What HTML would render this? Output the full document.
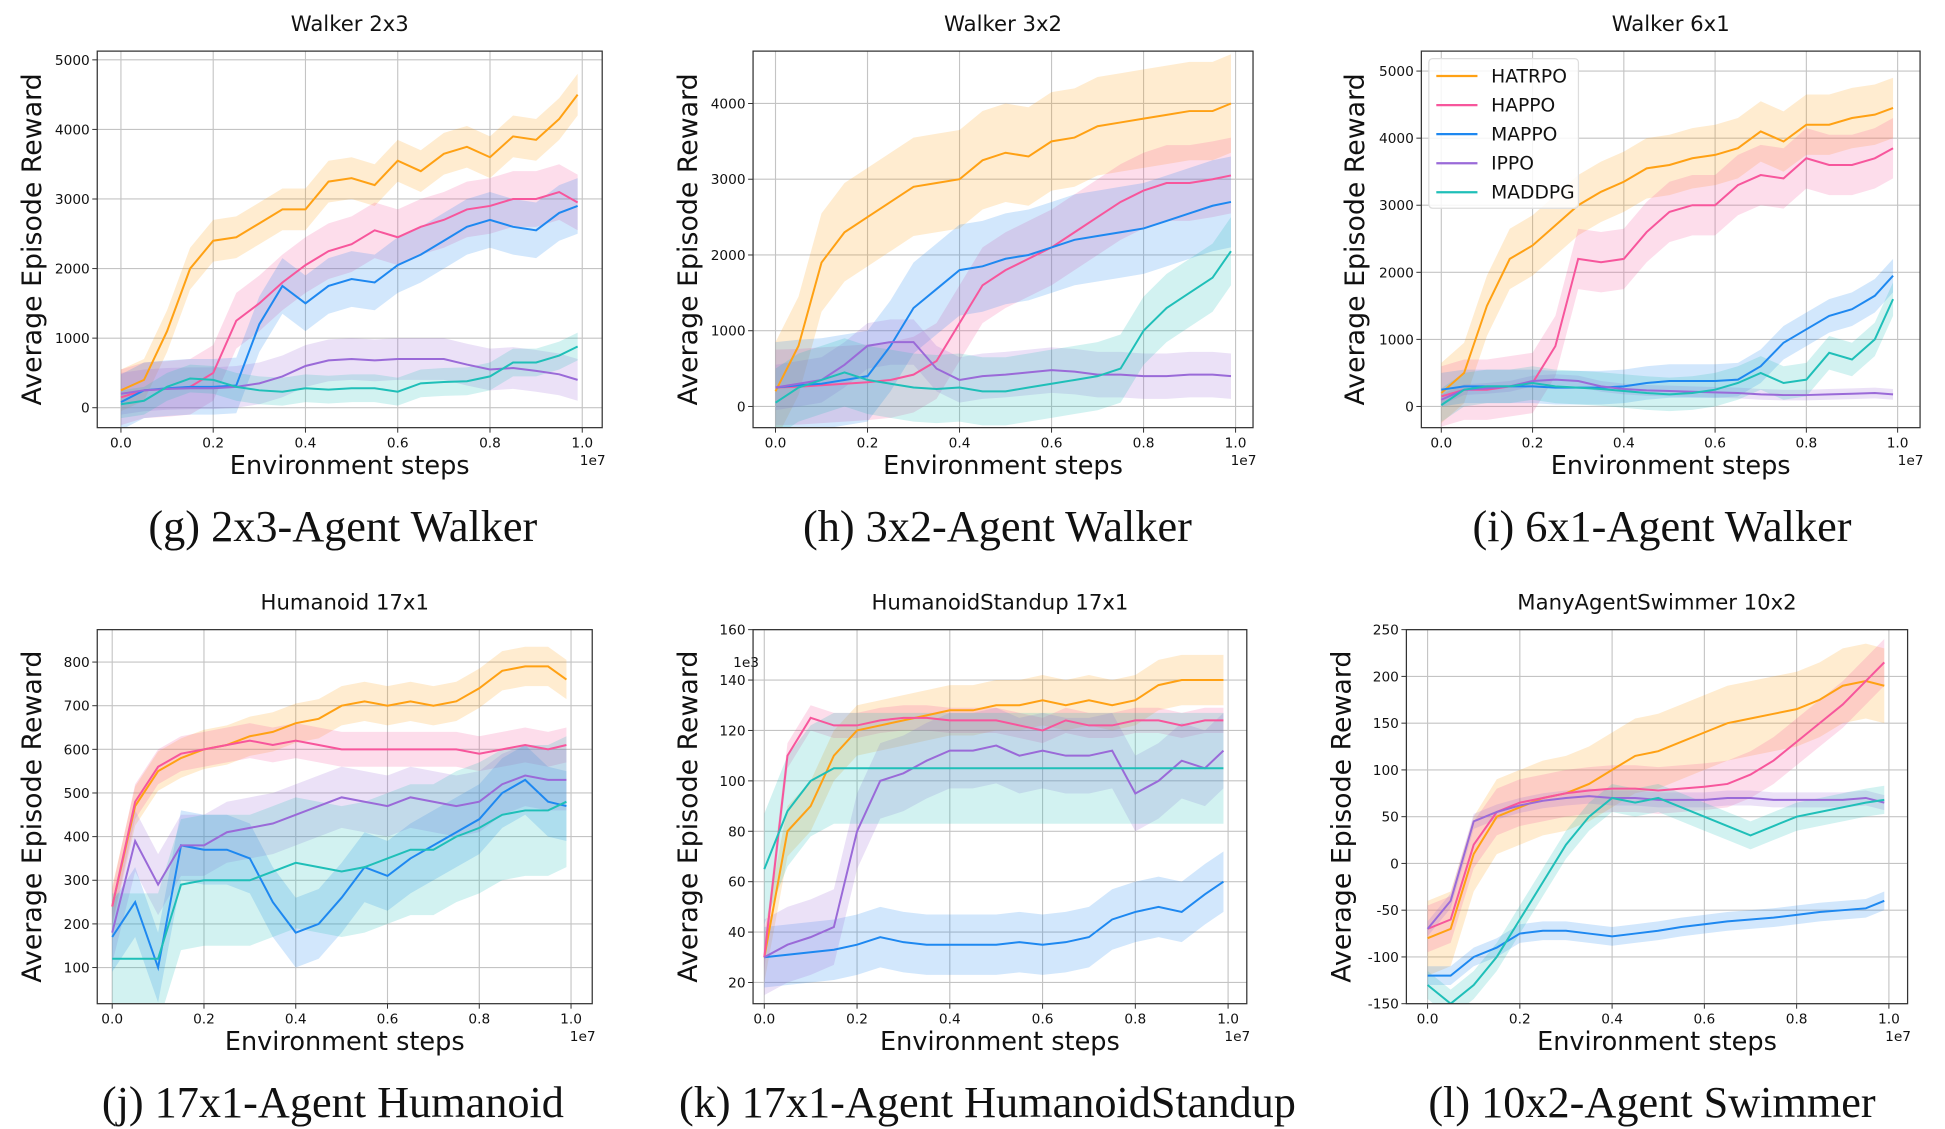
<!DOCTYPE html>
<html><head><meta charset="utf-8"><style>
html,body{margin:0;padding:0;background:#fff;}
svg{display:block;}
text{font-family:"DejaVu Sans","Liberation Sans",sans-serif;fill:#111;}
.cap{font-family:"Liberation Serif",serif;}
</style></head><body>
<svg id="fig" width="1945" height="1129" viewBox="0 0 1560 905.5" preserveAspectRatio="none" xmlns="http://www.w3.org/2000/svg"></svg>
<script>
const xs = [0,0.05,0.1,0.15,0.2,0.25,0.3,0.35,0.4,0.45,0.5,0.55,0.6,0.65,0.7,0.75,0.8,0.85,0.9,0.95,0.99];
const algos = ['HATRPO','HAPPO','MAPPO','IPPO','MADDPG'];
const colors = ['#ffa114','#f7569c','#1e88f0','#9a6ad8','#1fbfb8'];

// Walker 2x3
const g_hatrpo=[250,400,1100,2000,2400,2450,2650,2850,2850,3250,3300,3200,3550,3400,3650,3750,3600,3900,3850,4150,4500];
const g_happo=[150,250,270,300,500,1250,1500,1800,2050,2250,2350,2550,2450,2600,2700,2850,2900,3000,3000,3100,2950];
const g_mappo=[80,250,280,300,300,320,1200,1750,1500,1750,1850,1800,2050,2200,2400,2600,2700,2600,2550,2800,2900];
const g_ippo=[200,250,270,280,280,300,350,450,600,680,700,680,700,700,700,620,550,570,530,480,400];
const g_maddpg=[50,100,300,420,400,300,250,230,280,260,280,280,230,350,370,380,450,650,650,750,880];
const g_spread=[300,400,400,300,200];
// Walker 3x2
const h_hatrpo=[200,800,1900,2300,2500,2700,2900,2950,3000,3250,3350,3300,3500,3550,3700,3750,3800,3850,3900,3900,4000];
const h_happo=[250,260,280,300,320,350,420,600,1100,1600,1800,1950,2100,2300,2500,2700,2850,2950,2950,3000,3050];
const h_mappo=[250,280,300,350,400,800,1300,1550,1800,1850,1950,2000,2100,2200,2250,2300,2350,2450,2550,2650,2700];
const h_ippo=[250,300,350,550,800,850,850,500,350,400,420,450,480,460,420,420,400,400,420,420,400];
const h_maddpg=[50,250,350,450,350,300,250,230,250,200,200,250,300,350,400,500,1000,1300,1500,1700,2050];
const h_spread=[650,500,600,300,450];
// Walker 6x1
const i_hatrpo=[200,500,1500,2200,2400,2700,3000,3200,3350,3550,3600,3700,3750,3850,4100,3950,4200,4200,4300,4350,4450];
const i_happo=[150,250,250,300,350,900,2200,2150,2200,2600,2900,3000,3000,3300,3450,3400,3700,3600,3600,3700,3850];
const i_mappo=[250,300,300,300,300,280,280,280,300,350,380,380,380,400,600,950,1150,1350,1450,1650,1950];
const i_ippo=[100,250,270,300,380,400,380,300,260,240,230,220,210,200,180,170,170,180,190,200,180];
const i_maddpg=[20,250,300,300,350,300,280,260,230,200,180,200,250,350,500,350,400,800,700,1000,1600];
const i_spread=[450,450,250,80,250];
// Humanoid 17x1
const j_hatrpo=[240,470,550,580,600,610,630,640,660,670,700,710,700,710,700,710,740,780,790,790,760];
const j_happo=[240,480,560,590,600,610,620,610,620,610,600,600,600,600,600,600,590,600,610,600,610];
const j_mappo=[170,250,100,380,370,370,350,250,180,200,260,330,310,350,380,410,440,500,530,480,470];
const j_ippo=[180,390,290,380,380,410,420,430,450,470,490,480,470,490,480,470,480,520,540,530,530];
const j_maddpg=[120,120,120,290,300,300,300,320,340,330,320,330,350,370,370,400,420,450,460,460,480];
const j_spread=[45,40,80,70,150];
// HumanoidStandup 17x1
const k_hatrpo=[30,80,90,110,120,122,124,126,128,128,130,130,132,130,132,130,132,138,140,140,140];
const k_happo=[30,110,125,122,122,124,125,125,124,124,124,122,120,124,122,122,124,124,122,124,124];
const k_mappo=[30,31,32,33,35,38,36,35,35,35,35,36,35,36,38,45,48,50,48,55,60];
const k_ippo=[30,35,38,42,80,100,103,108,112,112,114,110,112,110,110,112,95,100,108,105,112];
const k_maddpg=[65,88,100,105,105,105,105,105,105,105,105,105,105,105,105,105,105,105,105,105,105];
const k_spread=[10,5,12,15,22];
// ManyAgentSwimmer 10x2
const l_hatrpo=[-80,-70,10,50,60,70,75,85,100,115,120,130,140,150,155,160,165,175,190,195,190];
const l_happo=[-70,-60,20,55,65,70,75,78,80,80,78,80,82,85,95,110,130,150,170,195,215];
const l_mappo=[-120,-120,-100,-90,-75,-72,-72,-75,-78,-75,-72,-68,-65,-62,-60,-58,-55,-52,-50,-48,-40];
const l_ippo=[-70,-40,45,55,62,67,70,72,70,70,68,68,68,70,70,68,68,68,68,70,65];
const l_maddpg=[-130,-150,-130,-100,-60,-20,20,50,70,65,70,60,50,40,30,40,50,55,60,65,68];
const l_spread=[40,25,10,8,15];

const gTicks=[0,1000,2000,3000,4000,5000];
const hTicks=[0,1000,2000,3000,4000];
const jTicks=[100,200,300,400,500,600,700,800];
const kTicks=[20,40,60,80,100,120,140,160];
const lTicks=[-150,-100,-50,0,50,100,150,200,250];
const xTicks=[0,0.2,0.4,0.6,0.8,1.0];

const panels=[
 {id:'walker-2x3',title:'Walker 2x3',cap:'(g) 2x3-Agent Walker',capX:275,capY:434,box:[78,41,483,343],x0:97,x1:467,yA:[0,327],yB:[5000,48],ticks:gTicks,series:[g_hatrpo,g_happo,g_mappo,g_ippo,g_maddpg],spread:g_spread,ylab:27},
 {id:'walker-3x2',title:'Walker 3x2',cap:'(h) 3x2-Agent Walker',capX:800,capY:434,box:[604,41,1005,343],x0:622,x1:991,yA:[0,326],yB:[4000,83],ticks:hTicks,series:[h_hatrpo,h_happo,h_mappo,h_ippo,h_maddpg],spread:h_spread,ylab:553},
 {id:'walker-6x1',title:'Walker 6x1',cap:'(i) 6x1-Agent Walker',capX:1333,capY:434,box:[1140,41,1540,343],x0:1156,x1:1522,yA:[0,326],yB:[5000,57],ticks:gTicks,series:[i_hatrpo,i_happo,i_mappo,i_ippo,i_maddpg],spread:i_spread,ylab:1088,legend:true},
 {id:'humanoid-17x1',title:'Humanoid 17x1',cap:'(j) 17x1-Agent Humanoid',capX:267,capY:896,box:[78,505,475,805],x0:90,x1:458,yA:[100,776],yB:[800,531],ticks:jTicks,series:[j_hatrpo,j_happo,j_mappo,j_ippo,j_maddpg],spread:j_spread,ylab:27},
 {id:'humanoidstandup-17x1',title:'HumanoidStandup 17x1',cap:'(k) 17x1-Agent HumanoidStandup',capX:792,capY:896,box:[604,505,1000,805],x0:613,x1:985,yA:[20,788],yB:[160,505],ticks:kTicks,series:[k_hatrpo,k_happo,k_mappo,k_ippo,k_maddpg],spread:k_spread,ylab:553,exp:'1e3'},
 {id:'swimmer-10x2',title:'ManyAgentSwimmer 10x2',cap:'(l) 10x2-Agent Swimmer',capX:1325,capY:896,box:[1128,505,1530,805],x0:1145,x1:1515,yA:[-150,805],yB:[250,505],ticks:lTicks,series:[l_hatrpo,l_happo,l_mappo,l_ippo,l_maddpg],spread:l_spread,ylab:1077}
];

const NS='http://www.w3.org/2000/svg';
const svg=document.getElementById('fig');
function mk(tag,attrs,parent,txt){const e=document.createElementNS(NS,tag);for(const k in attrs)e.setAttribute(k,attrs[k]);if(txt!==undefined)e.textContent=txt;(parent||svg).appendChild(e);return e;}

panels.forEach((p,pi)=>{
 const [L,T,R,B]=p.box;
 const xS=v=>p.x0+(p.x1-p.x0)*v;
 const yS=v=>p.yA[1]+(p.yB[1]-p.yA[1])*(v-p.yA[0])/(p.yB[0]-p.yA[0]);
 const g=mk('g',{});
 
 
 const clipId='c'+pi;
 const cp=mk('clipPath',{id:clipId},g);mk('rect',{x:L,y:T,width:R-L,height:B-T},cp);
 const t=mk('text',{x:(L+R)/2,y:T-16,'text-anchor':'middle','font-size':17},g,p.title);
 
 
 xTicks.forEach(v=>{
  const x=xS(v);
  const gl=mk('line',{x1:x,x2:x,y1:T,y2:B,stroke:'#c4c4c4','stroke-width':0.9},g);
  
  
  mk('line',{x1:x,x2:x,y1:B,y2:B+4,stroke:'#333','stroke-width':0.8},g);
  const tl=mk('text',{x:x,y:B+16,'text-anchor':'middle','font-size':11},g,v.toFixed(1));
  
  
 });
 p.ticks.forEach(v=>{
  const y=yS(v);
  const gl=mk('line',{x1:L,x2:R,y1:y,y2:y,stroke:'#c4c4c4','stroke-width':0.9},g);
  
  
  mk('line',{x1:L-4,x2:L,y1:y,y2:y,stroke:'#333','stroke-width':0.8},g);
  const tl=mk('text',{x:L-6,y:y+4,'text-anchor':'end','font-size':11},g,String(v));
  
  
 });
 if(p.exp){const e=mk('text',{x:L-16,y:T+30,'font-size':11},g,p.exp);}
 const e7=mk('text',{x:R-18,y:B+30,'font-size':11},g,'1e7');
 
 
 const cg=mk('g',{'clip-path':'url(#'+clipId+')'},g);
 p.series.forEach((s,si)=>{
  const sp=p.spread[si];
  const up=s.map((v,i)=>[xS(xs[i]),yS(v+sp)]);
  const lo=s.map((v,i)=>[xS(xs[i]),yS(v-sp)]).reverse();
  const band=mk('polygon',{points:up.concat(lo).map(q=>q.join(',')).join(' '),fill:colors[si],'fill-opacity':0.2},cg);
  
  
 });
 p.series.forEach((s,si)=>{
  const ln=mk('polyline',{points:s.map((v,i)=>xS(xs[i])+','+yS(v)).join(' '),fill:'none',stroke:colors[si],'stroke-width':1.6},cg);
  
  
 });
 const fr=mk('rect',{x:L,y:T,width:R-L,height:B-T,fill:'none',stroke:'#333','stroke-width':1},g);
 
 
 const xl=mk('text',{x:(L+R)/2,y:B+37,'text-anchor':'middle','font-size':20.5},g,'Environment steps');
 
 
 const yc=(T+B)/2;
 const yl=mk('text',{x:p.ylab+6,y:yc,'text-anchor':'middle','font-size':21.5,transform:'rotate(-90 '+(p.ylab+6)+' '+yc+')'},g,'Average Episode Reward');
 
 
 const cap=mk('text',{x:p.capX,y:p.capY,'text-anchor':'middle','font-size':35.5,class:'cap'},g,p.cap);
 
 
 if(p.legend){
  const lg=mk('g',{},g);
  
  
  mk('rect',{x:L+6,y:T+6,width:120,height:120,rx:3,fill:'#fff','fill-opacity':0.85,stroke:'#ddd'},lg);
  algos.forEach((a,ai)=>{
   const y=T+20+ai*23.3;
   const le=mk('g',{},lg);
   
   
   mk('line',{x1:L+12,x2:L+45,y1:y,y2:y,stroke:colors[ai],'stroke-width':1.8},le);
   mk('text',{x:L+56,y:y+5,'font-size':15},le,a);
  });
 }
});
</script>
</body></html>
